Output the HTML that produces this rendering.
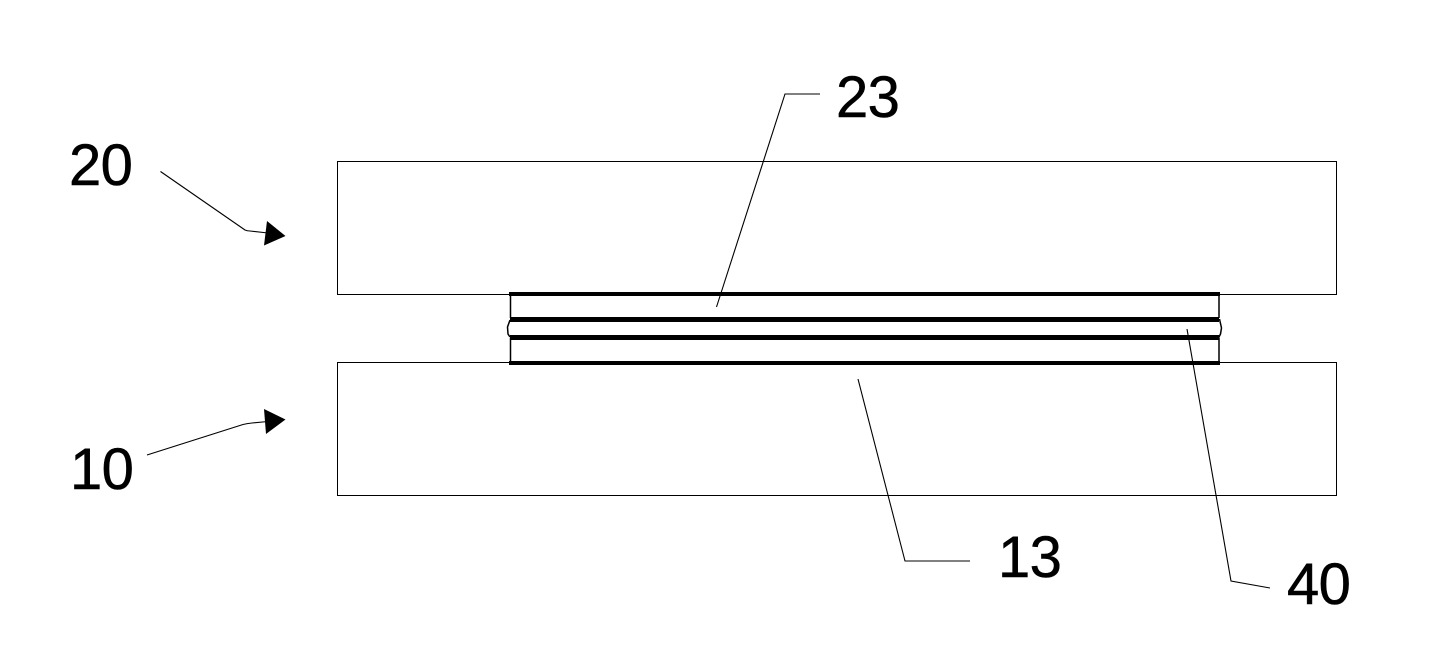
<!DOCTYPE html>
<html>
<head>
<meta charset="utf-8">
<style>
html,body{margin:0;padding:0;background:#fff}
svg{display:block}
text{font-family:"Liberation Sans",sans-serif;font-size:58px;letter-spacing:-0.6px;fill:#000;stroke:#000;stroke-width:0.5px}
</style>
</head>
<body>
<svg width="1437" height="668" viewBox="0 0 1437 668" xmlns="http://www.w3.org/2000/svg">
<rect width="1437" height="668" fill="#fff"/>
<g fill="none" stroke="#000" stroke-width="1" shape-rendering="crispEdges">
<path d="M510 161.500H337.500V294.500H510M1219 294.500H1336.500V161.500H510"/>
<path d="M510 362.500H337.500V495.500H1336.500V362.500H1219"/>
</g>
<g fill="none" stroke="#000" stroke-width="1.500">
<path d="M510.500 293V318M510.500 338V363M1219 293V318M1219 338V363"/>
<path d="M510 320L507.500 327L508 334L510 337"/>
<path d="M1219.500 319L1221.500 328L1220.500 334L1218.500 338"/>
</g>
<g fill="#000">
<rect x="509" y="292" width="711" height="4"/>
<rect x="510" y="317" width="709" height="5"/>
<rect x="510" y="335" width="709" height="5"/>
<rect x="509" y="361" width="711" height="4"/>
</g>
<g fill="none" stroke="#000" stroke-width="1.100">
<path d="M160.500 171.500L245 230Q247 231 250 231L268 233"/>
<path d="M147 455L243 424.500Q247 423.500 252 423L268 421.500"/>
<path d="M716.500 307L785 94H820"/>
<path d="M858 379L905 561H970"/>
<path d="M1187 329L1231 581L1270 588"/>
</g>
<g fill="#000">
<path d="M267 221L285.500 236L264 245.500Z"/>
<path d="M264 409L285.500 419.500L266 434Z"/>
</g>
<text x="69" y="185">20</text>
<text x="70" y="489">10</text>
<text x="836" y="117">23</text>
<text x="998" y="577">13</text>
<text x="1287" y="604">40</text>
</svg>
</body>
</html>
